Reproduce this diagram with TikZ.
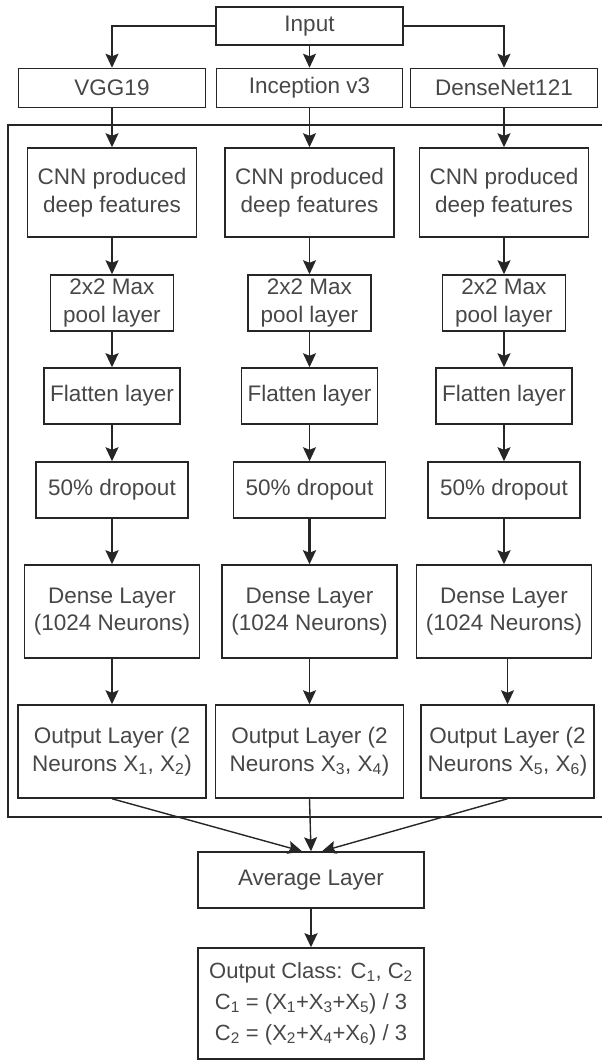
\documentclass[tikz,border=0pt]{standalone}
\usepackage{fontspec}
\setmainfont{Liberation Sans}
\usetikzlibrary{arrows.meta}
\begin{document}
\begin{tikzpicture}[x=1pt,y=-1pt,
  box/.style={draw=black!85, line width=1.5pt, text=black!72, align=center,
    font=\fontsize{22.5}{27.5}\selectfont, inner sep=0pt},
  arr/.style={draw=black!85, line width=1.4pt,
    -{Stealth[length=14pt,width=13pt,inset=2.5pt]}},
  arrb/.style={arr, line width=2.3pt}]
\useasboundingbox (0,0) rectangle (602,1060);

% backbone selection row
\node[box, minimum width=187pt, minimum height=38pt] (in) at (309.5,26) {Input};
\node[box, minimum width=187pt, minimum height=39pt] (vgg) at (112,88) {VGG19};
\node[box, minimum width=186pt, minimum height=39pt] (inc) at (309.5,88) {Inception v3};
\node[box, minimum width=187pt, minimum height=39pt] (dn) at (504,88) {DenseNet121};

% frame around the three branches
\draw[draw=black!85, line width=1.5pt] (8,125) rectangle (603,817);

% per-branch layers
\foreach \c/\x in {1/112, 2/309.5, 3/504}{
  \node[box, minimum width=169pt, minimum height=89pt] (cnn\c) at (\x,192.5) {CNN produced\\deep features};
  \node[box, minimum width=123pt, minimum height=56pt] (mp\c) at (\x,303) {2x2 Max\\pool layer};
  \node[box, minimum width=136pt, minimum height=56pt] (fl\c) at (\x,396) {Flatten layer};
  \node[box, minimum width=152pt, minimum height=56pt] (dr\c) at (\x,490) {50\% dropout};
  \node[box, minimum width=175pt, minimum height=93pt] (de\c) at (\x,611.5) {Dense Layer\\(1024 Neurons)};
}
\node[box, minimum width=188pt, minimum height=93pt] (out1) at (112,751.5)
  {Output Layer (2\\Neurons X\textsubscript{1}, X\textsubscript{2})};
\node[box, minimum width=188pt, minimum height=93pt] (out2) at (309.5,751.5)
  {Output Layer (2\\Neurons X\textsubscript{3}, X\textsubscript{4})};
\node[box, minimum width=173pt, minimum height=93pt] (out3) at (507.5,751.5)
  {Output Layer (2\\Neurons X\textsubscript{5}, X\textsubscript{6})};

% fusion
\node[box, minimum width=226pt, minimum height=56pt] (avg) at (311,880) {Average Layer};
\node[box, minimum width=226pt, minimum height=111pt,
  font=\fontsize{22}{31}\selectfont] (cls) at (311,1003.5)
  {Output Class: C\textsubscript{1}, C\textsubscript{2}\\
   C\textsubscript{1} = (X\textsubscript{1}+X\textsubscript{3}+X\textsubscript{5}) / 3\\
   C\textsubscript{2} = (X\textsubscript{2}+X\textsubscript{4}+X\textsubscript{6}) / 3};

% connectors
\draw[arr] (in.west) -| (vgg.north);
\draw[arr] (in.south) -- (inc.north);
\draw[arr] (in.east) -| (dn.north);
\draw[arr] (vgg.south) -- (cnn1.north);
\draw[arr] (inc.south) -- (cnn2.north);
\draw[arr] (dn.south) -- (cnn3.north);
\foreach \c in {1,2,3}{
  \draw[arr] (cnn\c.south) -- (mp\c.north);
  \draw[arr] (fl\c.south) -- (dr\c.north);
  \draw[arrb] (dr\c.south) -- (de\c.north);
}
\draw[arrb] (mp1.south) -- (fl1.north);
\draw[arr] (mp2.south) -- (fl2.north);
\draw[arr] (mp3.south) -- (fl3.north);
\draw[arr] (de1.south) -- (out1.north);
\draw[arr] (de2.south) -- (out2.north);
\draw[arr] (de3.south -| out3.north) -- (out3.north);
\draw[arr] (out1.south) -- ([xshift=-9pt]avg.north);
\draw[arr] (out2.south) -- (avg.north);
\draw[arr] (out3.south) -- ([xshift=11pt]avg.north);
\draw[arrb] (avg.south) -- (cls.north);
\end{tikzpicture}
\end{document}
